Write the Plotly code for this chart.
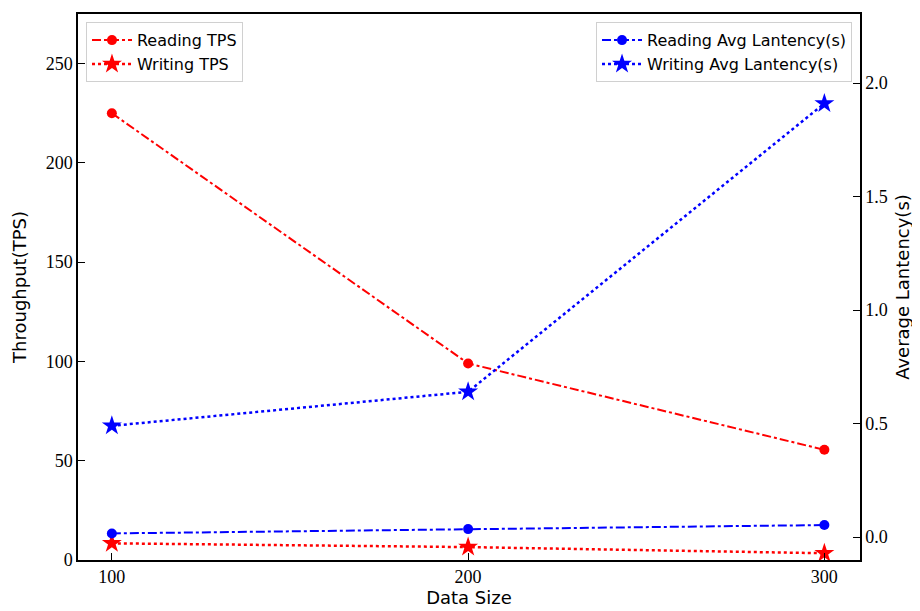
import plotly.graph_objects as go

sizes = [100, 200, 300]
read_tps = [225, 99, 55.5]
write_tps = [8.4, 6.5, 3.4]
read_lat = [0.016, 0.035, 0.053]
write_lat = [0.49, 0.64, 1.91]

left_ticks = [0, 50, 100, 150, 200, 250]
right_ticks = [0.0, 0.5, 1.0, 1.5, 2.0]
x_ticks = [100, 200, 300]

RED = "#ff0000"
BLUE = "#0000ff"

fig = go.Figure()
fig.add_trace(go.Scatter(x=sizes, y=read_tps, name="Reading TPS", mode="lines+markers",
                         line=dict(color=RED, width=2, dash="dashdot"),
                         marker=dict(symbol="circle", size=10, color=RED),
                         yaxis="y", legend="legend"))
fig.add_trace(go.Scatter(x=sizes, y=write_tps, name="Writing TPS", mode="lines+markers",
                         line=dict(color=RED, width=2.5, dash="dot"),
                         marker=dict(symbol="star", size=15, color=RED),
                         yaxis="y", legend="legend"))
fig.add_trace(go.Scatter(x=sizes, y=read_lat, name="Reading Avg Lantency(s)", mode="lines+markers",
                         line=dict(color=BLUE, width=2, dash="dashdot"),
                         marker=dict(symbol="circle", size=10, color=BLUE),
                         yaxis="y2", legend="legend2"))
fig.add_trace(go.Scatter(x=sizes, y=write_lat, name="Writing Avg Lantency(s)", mode="lines+markers",
                         line=dict(color=BLUE, width=2.5, dash="dot"),
                         marker=dict(symbol="star", size=15, color=BLUE),
                         yaxis="y2", legend="legend2"))

tickfont = dict(family="Liberation Serif", size=18, color="black")
titlefont = dict(family="DejaVu Sans", size=18, color="black")
legfont = dict(family="DejaVu Sans", size=16, color="black")

fig.update_layout(
    width=920, height=611,
    margin=dict(l=70, r=68, t=6, b=59),
    plot_bgcolor="white", paper_bgcolor="white",
    showlegend=True,
    xaxis=dict(range=[90.5, 310], tickvals=x_ticks, ticks="inside", ticklen=7,
               tickcolor="black", showline=True, linecolor="black", linewidth=1.5,
               mirror=True, showgrid=False, zeroline=False, tickfont=tickfont,
               automargin=False,
               title=dict(text="Data Size", font=titlefont, standoff=4)),
    yaxis=dict(range=[0, 275], tickvals=left_ticks, ticks="inside", ticklen=7,
               tickcolor="black", showline=True, linecolor="black", linewidth=1.5,
               showgrid=False, zeroline=False, tickfont=tickfont, automargin=False,
               title=dict(text="Throughput(TPS)", font=titlefont, standoff=14)),
    yaxis2=dict(range=[-0.101, 2.304], tickvals=right_ticks, tickformat=".1f",
                overlaying="y", side="right", ticks="inside", ticklen=7,
                tickcolor="black", showline=True, linecolor="black", linewidth=1.5,
                showgrid=False, zeroline=False, tickfont=tickfont, automargin=False,
                title=dict(text="Average Lantency(s)", font=titlefont, standoff=10)),
    legend=dict(x=0.0102, y=0.985, xanchor="left", yanchor="top",
                bgcolor="white", bordercolor="#d0d0d0", borderwidth=1,
                font=legfont, tracegroupgap=0, itemwidth=40),
    legend2=dict(x=0.9898, y=0.985, xanchor="right", yanchor="top",
                 bgcolor="white", bordercolor="#d0d0d0", borderwidth=1,
                 font=legfont, tracegroupgap=0, itemwidth=40),
)

fig.write_html("out.html")
